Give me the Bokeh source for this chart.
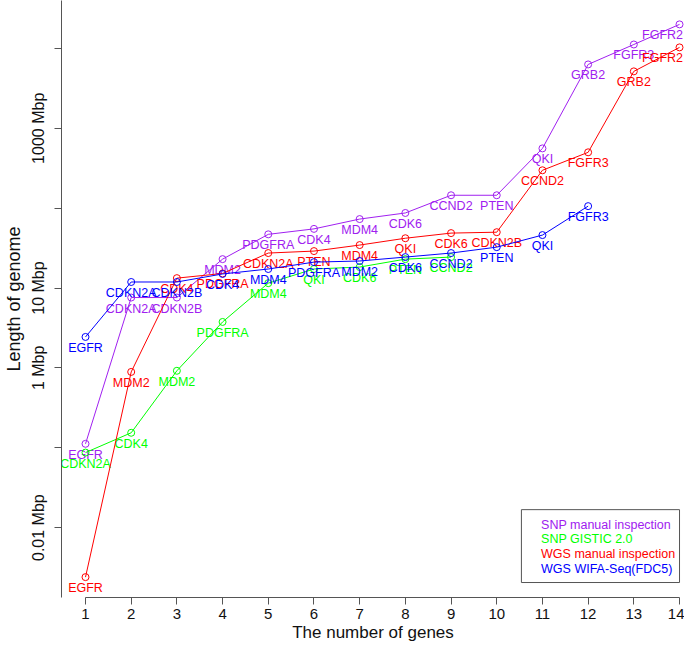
from bokeh.plotting import figure
from bokeh.models import FixedTicker, Range1d, BoxAnnotation, Label
from bokeh.embed import file_html
from bokeh.resources import INLINE
from bokeh.core.properties import value

# ---------------- data (Mbp) ----------------
series_names = ["SNP manual inspection", "SNP GISTIC 2.0",
                "WGS manual inspection", "WGS WIFA-Seq(FDC5)"]
series_colors = ["#A020F0", "#00FF00", "#FF0000", "#0000FF"]

snp_manual_genes = ["EGFR", "CDKN2A", "CDKN2B", "MDM2", "PDGFRA", "CDK4", "MDM4",
                    "CDK6", "CCND2", "PTEN", "QKI", "GRB2", "FGFR3", "FGFR2"]
snp_manual_mbp = [0.112, 7.6, 7.6, 23, 47, 55, 73, 87, 145, 145, 560, 6300, 11200, 20000]

snp_gistic_genes = ["CDKN2A", "CDK4", "MDM2", "PDGFRA", "MDM4", "QKI", "CDK6", "PTEN", "CCND2"]
snp_gistic_mbp = [0.087, 0.154, 0.92, 3.76, 11.5, 17.3, 18.3, 23, 24.4]

wgs_manual_genes = ["EGFR", "MDM2", "CDK4", "PDGFRA", "CDKN2A", "PTEN", "MDM4",
                    "QKI", "CDK6", "CDKN2B", "CCND2", "FGFR3", "GRB2", "FGFR2"]
wgs_manual_mbp = [0.0024, 0.89, 13.3, 15.2, 27.4, 29, 34.5, 42, 48.7, 50, 298, 500, 5160, 10300]

wgs_wifa_genes = ["EGFR", "CDKN2A", "CDKN2B", "CDK4", "MDM4", "PDGFRA", "MDM2",
                  "CDK6", "CCND2", "PTEN", "QKI", "FGFR3"]
wgs_wifa_mbp = [2.44, 11.9, 11.9, 15, 17.3, 21.1, 21.8, 24.4, 27.4, 32.5, 46, 106]

x_ticks = list(range(1, 15))
y_ticks = [0.01, 0.1, 1, 10, 100, 1000, 10000]
y_tick_labels = ["0.01 Mbp", "", "1 Mbp", "10 Mbp", "", "1000 Mbp", ""]

all_series = [
    (snp_manual_genes, snp_manual_mbp),
    (snp_gistic_genes, snp_gistic_mbp),
    (wgs_manual_genes, wgs_manual_mbp),
    (wgs_wifa_genes, wgs_wifa_mbp),
]

FONT = "Liberation Sans"
W, H = 684, 645
LEFT, BOTTOM = 61, 48

p = figure(width=W, height=H, output_backend="svg", toolbar_location=None,
           y_axis_type="log",
           x_range=Range1d(0.4747, 14.109),
           y_range=Range1d(10 ** -2.875, 10 ** 4.6),
           min_border_left=LEFT, min_border_right=0, min_border_top=0,
           min_border_bottom=BOTTOM)
p.outline_line_color = None
p.xgrid.visible = False
p.ygrid.visible = False
p.background_fill_color = "white"

# x axis
xa = p.xaxis[0]
xa.ticker = FixedTicker(ticks=x_ticks)
xa.bounds = (1, 14)
xa.axis_label = "The number of genes"
xa.axis_label_text_font = FONT
xa.axis_label_text_font_size = "17px"
xa.axis_label_text_font_style = "normal"
xa.axis_label_text_color = "#111111"
xa.axis_label_standoff = 1
xa.major_label_text_font = FONT
xa.major_label_text_font_size = "15px"
xa.major_label_text_color = "#111111"
xa.major_label_standoff = 4
xa.major_tick_in = 0
xa.major_tick_out = 7
xa.minor_tick_out = 0
xa.minor_tick_in = 0
xa.axis_line_color = "#555555"
xa.major_tick_line_color = "#555555"

# y axis
ya = p.yaxis[0]
ya.ticker = FixedTicker(ticks=y_ticks)
overrides = {}
for t, lab in zip(y_ticks, y_tick_labels):
    overrides[float(t)] = lab
    overrides[str(t)] = lab
ya.major_label_overrides = overrides
ya.major_label_orientation = "vertical"
ya.axis_label = "Length of genome"
ya.axis_label_text_font = FONT
ya.axis_label_text_font_size = "18px"
ya.axis_label_text_font_style = "normal"
ya.axis_label_text_color = "#111111"
ya.axis_label_standoff = 4
ya.major_label_text_font = FONT
ya.major_label_text_font_size = "16px"
ya.major_label_text_color = "#111111"
ya.major_label_standoff = 7
ya.major_tick_in = 0
ya.major_tick_out = 7
ya.minor_tick_out = 0
ya.minor_tick_in = 0
ya.axis_line_color = "#555555"
ya.major_tick_line_color = "#555555"

# series
for (genes, vals), color in zip(all_series, series_colors):
    xs = list(range(1, len(vals) + 1))
    # keep the labels of the last column inside the canvas
    x_off = [-17 if x == x_ticks[-1] else 0 for x in xs]
    p.line(xs, vals, line_color=color, line_width=1)
    p.scatter(xs, vals, marker="circle", size=7, fill_color=None,
              line_color=color, line_width=1)
    p.text(xs, vals, text=genes, text_color=color, text_font=value(FONT),
           text_font_size="12.5px", text_align="center", text_baseline="middle",
           x_offset=x_off, y_offset=11)

# legend (text only, as in the original)
box = BoxAnnotation(left=10.54, right=14.0, top=10 ** -1.775, bottom=10 ** -2.6875,
                    fill_color="white", fill_alpha=1.0, line_color="#555555",
                    line_width=1, line_alpha=1.0)
p.add_layout(box)
row_logs = [-1.9625, -2.1375, -2.325, -2.5125]
for name, color, rl in zip(series_names, series_colors, row_logs):
    p.add_layout(Label(x=10.97, y=10 ** rl, text=name, text_color=color,
                       text_font=FONT, text_font_size="12.5px",
                       text_baseline="middle"))

open("out.html", "w").write(file_html(p, INLINE))
